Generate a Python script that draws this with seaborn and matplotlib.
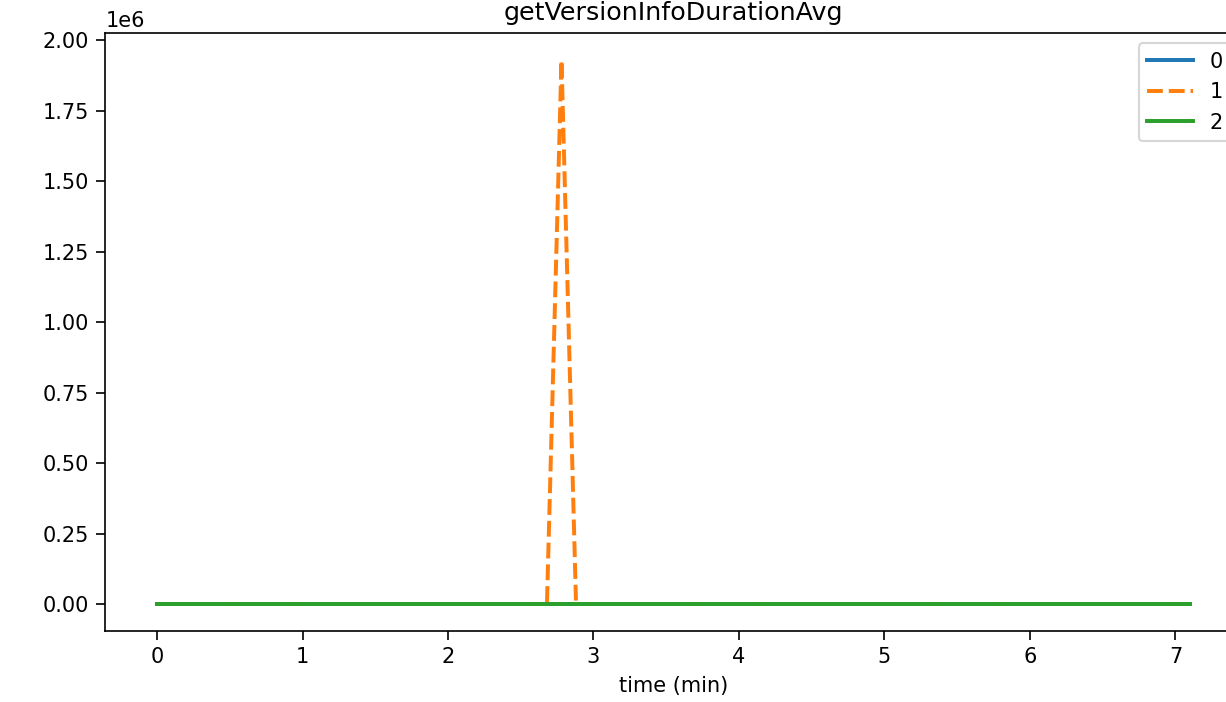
import matplotlib
matplotlib.use('Agg')
import matplotlib.pyplot as plt
import seaborn as sns
import pandas as pd

# data (peak ~1.93e6)
time_min = [0.0, 0.5, 1.0, 1.5, 2.0, 2.5, 2.68, 2.78, 2.88, 3.0, 3.5,
            4.0, 4.5, 5.0, 5.5, 6.0, 6.5, 7.0, 7.1]
series_0 = [0, 0, 0, 0, 0, 0, 0, 0, 0, 0, 0, 0, 0, 0, 0, 0, 0, 0, 0]
series_1 = [0, 0, 0, 0, 0, 0, 0, 1.93e6, 0, 0, 0, 0, 0, 0, 0, 0, 0, 0, 0]
series_2 = [0, 0, 0, 0, 0, 0, 0, 0, 0, 0, 0, 0, 0, 0, 0, 0, 0, 0, 0]

df = pd.DataFrame({0: series_0, 1: series_1, 2: series_2}, index=time_min)

plt.rcParams['font.family'] = ['DejaVu Sans']
plt.rcParams['xtick.major.size'] = 4.3
plt.rcParams['ytick.major.size'] = 4.3

fig = plt.figure(figsize=(1226 / 150, 702 / 150), dpi=150)
ax = fig.add_axes([0.086, 0.1009, 0.9267, 0.8521])

sns.lineplot(data=df, ax=ax, linewidth=1.9,
             dashes={0: '', 1: (4, 1.5), 2: ''})

ax.set_title('getVersionInfoDurationAvg', fontsize=12.2)
ax.set_xlabel('time (min)')
ax.legend(loc='upper right', handlelength=2.2)

fig.savefig('out.png', dpi=150)
